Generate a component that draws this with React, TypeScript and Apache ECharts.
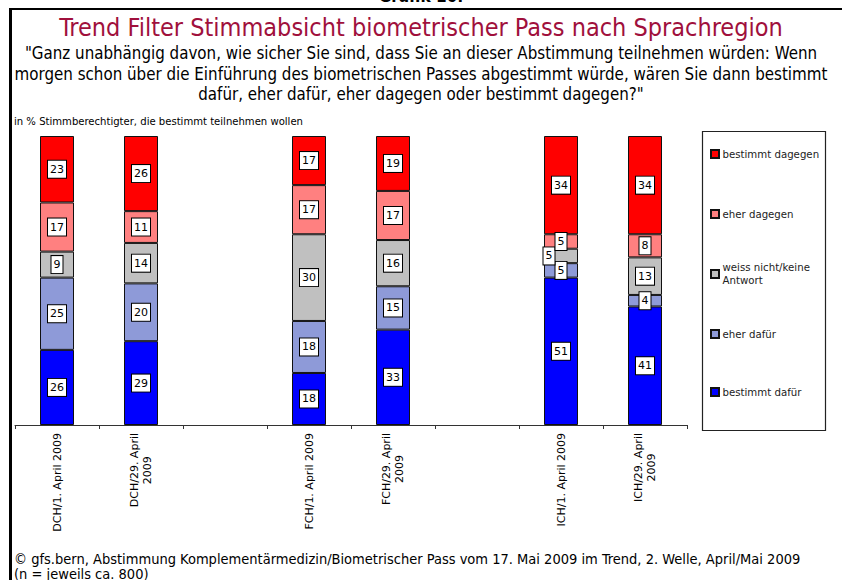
import React, { useEffect, useRef } from 'react';
import * as echarts from 'echarts';

const categories = [
  'DCH/1. April 2009',
  'DCH/29. April 2009',
  ' ',
  'FCH/1. April 2009',
  'FCH/29. April 2009',
  '  ',
  'ICH/1. April 2009',
  'ICH/29. April 2009',
];
const seriesNames = [
  'bestimmt dafür',
  'eher dafür',
  'weiss nicht/keine Antwort',
  'eher dagegen',
  'bestimmt dagegen',
];
const bestimmtDafuer = [26, 29, null, 18, 33, null, 51, 41];
const eherDafuer = [25, 20, null, 18, 15, null, 5, 4];
const weissNicht = [9, 14, null, 30, 16, null, 5, 13];
const eherDagegen = [17, 11, null, 17, 17, null, 5, 8];
const bestimmtDagegen = [23, 26, null, 17, 19, null, 34, 34];

const values = [bestimmtDafuer, eherDafuer, weissNicht, eherDagegen, bestimmtDagegen];
const colors = ['#0000FF', '#8E9AD8', '#C0C0C0', '#FF8080', '#FF0000'];

const titleText = 'Trend Filter Stimmabsicht biometrischer Pass nach Sprachregion';
const questionText =
  '"Ganz unabhängig davon, wie sicher Sie sind, dass Sie an dieser Abstimmung teilnehmen würden: Wenn\nmorgen schon über die Einführung des biometrischen Passes abgestimmt würde, wären Sie dann bestimmt\ndafür, eher dafür, eher dagegen oder bestimmt dagegen?"';
const unitText = 'in % Stimmberechtigter, die bestimmt teilnehmen wollen';
const footer1 =
  '© gfs.bern, Abstimmung Komplementärmedizin/Biometrischer Pass vom 17. Mai 2009 im Trend, 2. Welle, April/Mai 2009';
const footer2 = '(n = jeweils ca. 800)';

const NARROW = '"Liberation Sans Narrow", "Arial Narrow", "DejaVu Sans Condensed", sans-serif';
const WIDE = '"DejaVu Sans", Verdana, sans-serif';

// label x-offset for crowded segments: [seriesIndex, dataIndex, dx]
const labelShifts: [number, number, number][] = [[2, 6, -12]];

const legendTops = [147.5, 207.5, 254.5, 327.5, 385.5];

export default function App() {
  const ref = useRef<HTMLDivElement>(null);
  useEffect(() => {
    if (!ref.current) return;
    const chart = echarts.init(ref.current, null, { renderer: 'svg' });
    const series = seriesNames.map((name, si) => ({
      name,
      type: 'bar',
      stack: 'total',
      barWidth: 34,
      itemStyle: { color: colors[si], borderColor: '#111', borderWidth: 1 },
      label: {
        show: true,
        position: 'inside',
        color: '#000',
        fontSize: 11,
        fontFamily: WIDE,
        backgroundColor: '#fff',
        borderColor: '#000',
        borderWidth: 1,
        padding: [3, 2, 3, 2],
      },
      data: values[si].map((v, di) => {
        const sh = labelShifts.find((s) => s[0] === si && s[1] === di);
        if (sh) return { value: v, label: { offset: [sh[2], 0] } };
        return v;
      }),
    }));
    const legends = [4, 3, 2, 1, 0].map((si, i) => ({
      data: [seriesNames[si]],
      orient: 'vertical',
      left: 710,
      top: legendTops[i],
      padding: 0,
      itemWidth: 8,
      itemHeight: 8,
      icon: 'rect',
      selectedMode: false,
      formatter: (n: string) => (n === 'weiss nicht/keine Antwort' ? 'weiss nicht/keine\nAntwort' : n),
      textStyle: {
        fontSize: 10.2,
        fontFamily: WIDE,
        color: '#222',
        lineHeight: 13,
        padding: si === 2 ? [13, 0, 0, -1.5] : [0, 0, 0, -1.5],
      },
    }));
    chart.setOption({
      animation: false,
      backgroundColor: '#fff',
      grid: { left: 15, top: 136, width: 672, height: 289, containLabel: false },
      legend: legends,
      xAxis: {
        type: 'category',
        data: categories,
        boundaryGap: true,
        axisLine: { show: true, lineStyle: { color: '#333', width: 1 } },
        axisTick: { show: true, length: 4, interval: 0, lineStyle: { color: '#333' } },
        axisLabel: {
          interval: 0,
          rotate: 90,
          margin: 8,
          color: '#000',
          fontSize: 11,
          fontFamily: WIDE,
          formatter: (v: string) => {
            const m = v.match(/^(.*\/29\. April) (2009)$/);
            if (m) return `{c|${m[1]}}\n{c|${m[2]}}`;
            return `{c|${v}}`;
          },
          rich: {
            c: { align: 'center', fontSize: 11, fontFamily: WIDE, color: '#000', lineHeight: 13 },
          },
        },
      },
      yAxis: { type: 'value', min: 0, max: 100, show: false },
      series,
      graphic: [
        { type: 'line', shape: { x1: 9, y1: 9, x2: 842, y2: 9 }, style: { stroke: '#000', lineWidth: 2 } },
        { type: 'line', shape: { x1: 10.5, y1: 8, x2: 10.5, y2: 580 }, style: { stroke: '#000', lineWidth: 3 } },
        {
          type: 'text',
          x: 421,
          y: 4,
          style: { text: 'Grafik 16:', font: `bold 17px ${NARROW}`, fill: '#000', align: 'center', verticalAlign: 'bottom' },
        },
        {
          type: 'text',
          x: 421,
          y: 27,
          style: { text: titleText, font: `25px ${NARROW}`, fill: '#A0103C', align: 'center', verticalAlign: 'middle' },
        },
        {
          type: 'text',
          x: 421,
          y: 43,
          style: {
            text: questionText,
            font: `16.8px ${NARROW}`,
            fill: '#000',
            align: 'center',
            verticalAlign: 'top',
            lineHeight: 20.5,
          },
        },
        {
          type: 'text',
          x: 14,
          y: 121,
          style: { text: unitText, font: `11.2px ${NARROW}`, fill: '#000', align: 'left', verticalAlign: 'middle' },
        },
        {
          type: 'rect',
          shape: { x: 702.5, y: 131.5, width: 123, height: 299 },
          style: { fill: 'none', stroke: '#222', lineWidth: 1.2 },
        },
        {
          type: 'text',
          x: 14,
          y: 559,
          style: { text: footer1, font: `14.5px ${NARROW}`, fill: '#000', align: 'left', verticalAlign: 'middle' },
        },
        {
          type: 'text',
          x: 14,
          y: 574,
          style: { text: footer2, font: `14.5px ${NARROW}`, fill: '#000', align: 'left', verticalAlign: 'middle' },
        },
      ],
    });
    return () => chart.dispose();
  }, []);
  return <div ref={ref} style={{ position: 'fixed', left: 0, top: 0, width: 842, height: 580 }} />;
}
